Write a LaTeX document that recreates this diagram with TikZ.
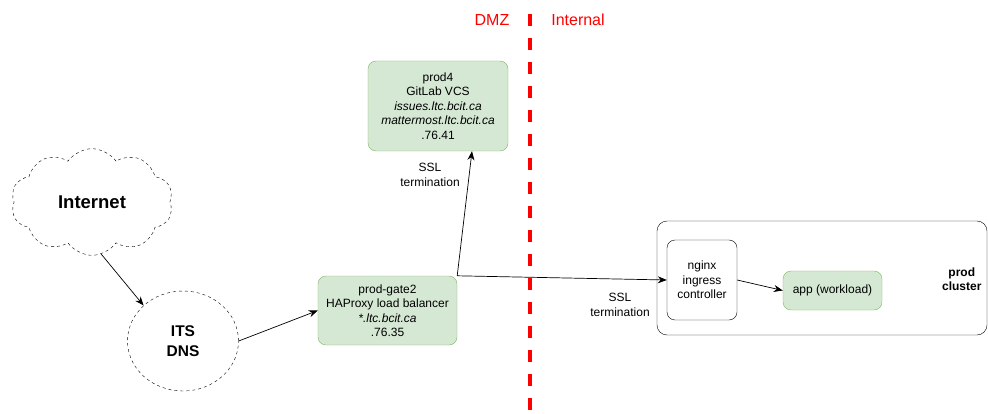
\documentclass[tikz,border=0pt]{standalone}
\usepackage{fontspec}
\setmainfont{Liberation Sans}
\usetikzlibrary{shapes.symbols,shapes.geometric,arrows.meta,calc}
\definecolor{gfill}{HTML}{D5E8D4}
\definecolor{gline}{HTML}{82B366}
\newcommand{\txt}{\fontsize{12}{14.5}\selectfont}
\tikzset{
  hostbox/.style={draw=gline,fill=gfill,rounded corners=8pt,align=center,font=\txt,inner sep=0pt},
  plainbox/.style={draw,rounded corners=8pt,align=center,font=\txt,inner sep=0pt},
  lbl/.style={align=center,font=\txt},
  conn/.style={-{Stealth[length=9pt,width=7pt]},line width=0.7pt}
}
\begin{document}
\begin{tikzpicture}[x=1pt,y=-1pt]
    \useasboundingbox (0,0) rectangle (988,414);

    % left side
    \node[cloud,draw,dashed,cloud puffs=10,cloud puff arc=110,minimum width=162pt,minimum height=102pt,inner sep=0pt,
      font=\fontsize{18.5}{20}\selectfont\bfseries] (inet) at (92,202) {Internet};
    \node[ellipse,draw,dashed,minimum width=111pt,minimum height=100pt,inner sep=0pt,align=center,
      font=\fontsize{15.5}{20}\selectfont\bfseries] (dns) at (183,341) {ITS\\DNS};

    % DMZ hosts
    \node[hostbox,minimum width=139pt,minimum height=69pt] (gate) at (387.5,310.5)
      {prod-gate2\\HAProxy load balancer\\\textit{*.ltc.bcit.ca}\\.76.35};
    \node[hostbox,minimum width=140pt,minimum height=90pt] (prod4) at (438,106)
      {prod4\\GitLab VCS\\\textit{issues.ltc.bcit.ca}\\\textit{mattermost.ltc.bcit.ca}\\.76.41};

    % zone split
    \draw[red,line width=3.6pt,dash pattern=on 12pt off 12pt] (530,14) -- (530,414);
    \node[red,font=\fontsize{16}{18}\selectfont] (dmz) at (492,20) {DMZ};
    \node[red,font=\fontsize{16}{18}\selectfont] (intl) at (578,20) {Internal};

    % cluster
    \node[draw,rounded corners=10pt,minimum width=330pt,minimum height=114pt,inner sep=0pt] (clus) at (822,278) {};
    \node[lbl,font=\txt\bfseries,anchor=east] (clusname) at (985,279) {prod\\cluster};
    \node[plainbox,minimum width=70pt,minimum height=80pt] (nginx) at (702,280) {nginx\\ingress\\controller};
    \node[hostbox,minimum width=99pt,minimum height=39pt] (app) at (832.5,290.5) {app (workload)};

    % connectors
    \coordinate (j) at (gate.north east);
    \draw[conn] (inet.-80) -- (dns.north west);
    \draw[conn] (dns.east) -- (gate.west);
    \draw[conn] (j) -- ($(prod4.south)+(34,0)$);
    \draw[conn] (j) -- (nginx.west);
    \draw[conn] (nginx.east) -- (app.west);

    \node[lbl] (ssl1) at (430,175) {SSL\\termination};
    \node[lbl] (ssl2) at (620,305) {SSL\\termination};
\end{tikzpicture}
\end{document}
